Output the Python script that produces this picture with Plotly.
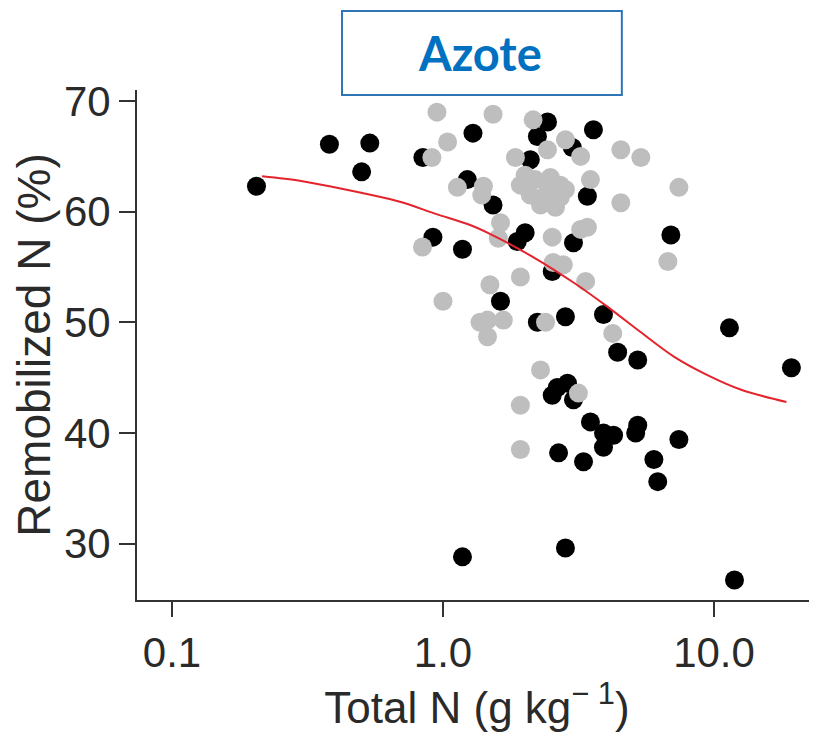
import plotly.graph_objects as go

# ---- data ----
black_x = [0.205, 0.381, 0.537, 0.501, 0.843, 1.29, 2.43, 2.23, 3.59, 3.00, 2.10, 3.41,
           1.23, 1.53, 2.01, 1.88, 3.03, 6.93, 0.918, 1.18, 2.53, 1.63, 2.23, 2.83,
           3.91, 4.41, 5.23, 11.4, 19.3, 2.53, 2.88, 2.64, 3.03, 3.50, 3.91, 4.26,
           3.91, 5.23, 5.14, 7.42, 2.67, 3.30, 6.00, 6.20, 1.18, 2.83, 11.9]
black_y = [62.3, 66.1, 66.2, 63.6, 64.9, 67.1, 68.1, 66.8, 67.4, 65.8, 64.7, 61.4,
           62.9, 60.6, 58.1, 57.3, 57.2, 57.9, 57.7, 56.6, 54.6, 51.9, 50.0, 50.5,
           50.7, 47.3, 46.6, 49.5, 45.9, 43.4, 44.5, 44.1, 43.0, 41.0, 40.0, 39.8,
           38.7, 40.7, 40.0, 39.4, 38.2, 37.4, 37.6, 35.6, 28.8, 29.6, 26.7]

grey_x = [0.95, 1.53, 1.04, 0.91, 2.15, 2.83, 3.22, 2.43, 1.85, 4.53, 5.37, 7.42,
          3.50, 4.53, 1.13, 1.41, 1.39,
          1.93, 2.19, 2.49, 2.71, 2.10, 2.39, 2.71, 2.29, 2.60, 2.01, 2.83, 2.45,
          1.63, 1.60, 2.53, 3.22, 3.41, 6.76, 0.84, 2.55, 2.78, 1.93, 3.36, 1.49,
          1.00, 1.46, 1.67, 1.37, 1.46, 2.39, 4.23, 2.29, 3.16, 1.93, 1.93]
grey_y = [69.0, 68.8, 66.3, 64.9, 68.3, 66.5, 65.0, 65.6, 64.9, 65.6, 64.9, 62.2,
          62.9, 60.8, 62.2, 62.3, 61.5,
          62.4, 62.9, 63.1, 62.4, 61.5, 61.5, 61.3, 60.6, 60.4, 63.3, 62.0, 62.2,
          59.0, 57.6, 57.7, 58.4, 58.6, 55.5, 56.8, 55.4, 55.2, 54.1, 53.7, 53.4,
          51.9, 50.2, 50.2, 50.0, 48.7, 50.0, 49.0, 45.7, 43.6, 42.5, 38.5]

curve_x = [0.215, 0.296, 0.381, 0.693, 0.94, 1.259, 1.49, 2.15, 3.03, 4.05, 5.37,
           7.11, 9.50, 12.6, 18.5]
curve_y = [63.2, 62.8, 62.3, 60.9, 59.8, 58.8, 58.0, 55.9, 53.6, 51.4, 49.1,
           46.9, 45.2, 43.9, 42.8]

x_tickvals = [0.1, 1.0, 10.0]
x_ticktext = ["0.1", "1.0", "10.0"]
y_tickvals = [30, 40, 50, 60, 70]

title_text = "Azote"
x_title = "Total N (g kg<sup>\u2212 1</sup>)"
y_title = "Remobilized N (%)"

fig = go.Figure()
fig.add_trace(go.Scatter(x=black_x, y=black_y, mode="markers",
                         marker=dict(color="#000000", size=19, line=dict(width=0)),
                         showlegend=False, hoverinfo="x+y"))
fig.add_trace(go.Scatter(x=grey_x, y=grey_y, mode="markers",
                         marker=dict(color="#BEBEBE", size=19, line=dict(width=0)),
                         showlegend=False, hoverinfo="x+y"))
fig.add_trace(go.Scatter(x=curve_x, y=curve_y, mode="lines",
                         line=dict(color="#E4232C", width=2, shape="spline", smoothing=0.9),
                         showlegend=False, hoverinfo="skip"))

axis_font = dict(family="Liberation Sans, Arial, sans-serif", size=42, color="#2a2a2a")

# page body has an 8px default margin, so the figure is sized to fill the window
fig.update_layout(
    width=809, height=737,
    margin=dict(l=129, r=0, t=82, b=145),
    paper_bgcolor="white", plot_bgcolor="white",
    xaxis=dict(type="log", range=[-1.129, 1.380], automargin=False,
               tickvals=x_tickvals, ticktext=x_ticktext,
               showgrid=False, zeroline=False,
               showline=True, linecolor="#333333", linewidth=2,
               ticks="outside", ticklen=15, tickwidth=2, tickcolor="#333333",
               tickfont=axis_font,
               title=dict(text=x_title, font=dict(family="Liberation Sans, Arial, sans-serif", size=44, color="#2a2a2a"), standoff=8)),
    yaxis=dict(range=[24.9, 71.0], tickvals=y_tickvals, automargin=False,
               showgrid=False, zeroline=False,
               showline=True, linecolor="#333333", linewidth=2,
               ticks="outside", ticklen=16, tickwidth=2, tickcolor="#333333",
               tickfont=axis_font,
               title=dict(text=y_title, font=dict(family="Liberation Sans, Arial, sans-serif", size=46, color="#2a2a2a"), standoff=0)),
    shapes=[dict(type="rect", xref="paper", yref="paper",
                 x0=0.3015, x1=0.713, y0=0.990, y1=1.155,
                 line=dict(color="#2E75B6", width=2), fillcolor="white", layer="above")],
    annotations=[dict(text="<b>" + title_text + "</b>", xref="paper", yref="paper",
                      x=0.504, y=1.0725, showarrow=False, xanchor="center", yanchor="middle",
                      font=dict(family="Lato, Open Sans, sans-serif", size=47, color="#0070C0"))],
)

fig.write_html("out.html")
